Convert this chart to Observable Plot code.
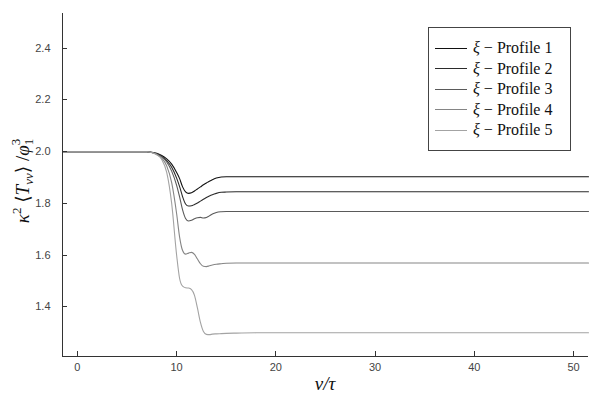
<!DOCTYPE html>
<html>
<head>
<meta charset="utf-8">
<script src="https://cdn.jsdelivr.net/npm/d3@7"></script>
<script src="https://cdn.jsdelivr.net/npm/@observablehq/plot@0.6"></script>
<style>
  html, body { margin: 0; padding: 0; background: #fff; }
  #wrap { position: relative; width: 600px; height: 400px; }
  #legend { position: absolute; left: 428px; top: 27px; width: 141px; height: 122px;
    border: 1px solid #444; background: #fff; box-sizing: content-box; }
  .row { position: absolute; left: 0; height: 20px; display: flex; align-items: center; }
  .sw { width: 32px; height: 0; border-top: 1.2px solid #000; margin-left: 6px; margin-right: 6px; }
  .lab { font-family: "Liberation Serif", serif; font-size: 16px; color: #111; white-space: nowrap; }
  .op { padding: 0 4px; }
</style>
</head>
<body>
<div id="wrap"></div>
<script>
const xs = [-1.5, 6.5, 7, 7.5, 8, 8.5, 9, 9.5, 10, 10.3, 10.6, 10.9, 11.2, 11.5, 11.8, 12.1, 12.4, 12.7, 13, 13.3, 13.6, 14, 14.5, 15, 16, 18, 51.5];
const profile1 = [2.0, 2.0, 1.9995, 1.998, 1.994, 1.985, 1.972, 1.952, 1.92, 1.896, 1.864, 1.845, 1.839, 1.841, 1.848, 1.856, 1.864, 1.872, 1.879, 1.886, 1.892, 1.898, 1.902, 1.903, 1.903, 1.903, 1.903];
const profile2 = [2.0, 2.0, 1.9995, 1.997, 1.992, 1.982, 1.965, 1.94, 1.898, 1.865, 1.826, 1.798, 1.790, 1.791, 1.796, 1.802, 1.809, 1.816, 1.823, 1.829, 1.834, 1.839, 1.843, 1.844, 1.845, 1.845, 1.845];
const profile3 = [2.0, 2.0, 1.9995, 1.997, 1.991, 1.98, 1.96, 1.925, 1.87, 1.825, 1.775, 1.742, 1.732, 1.735, 1.741, 1.745, 1.746, 1.744, 1.746, 1.752, 1.759, 1.765, 1.768, 1.769, 1.769, 1.769, 1.769];
const profile4 = [2.0, 2.0, 1.9995, 1.997, 1.989, 1.975, 1.945, 1.88, 1.76, 1.67, 1.618, 1.604, 1.608, 1.611, 1.603, 1.585, 1.567, 1.557, 1.556, 1.559, 1.562, 1.565, 1.567, 1.569, 1.570, 1.570, 1.570];
const profile5 = [2.0, 2.0, 1.9995, 1.996, 1.988, 1.97, 1.92, 1.80, 1.60, 1.51, 1.48, 1.474, 1.473, 1.467, 1.445, 1.395, 1.34, 1.305, 1.294, 1.293, 1.295, 1.296, 1.297, 1.298, 1.299, 1.30, 1.30];
const seriesNames = ["ξ − Profile 1", "ξ − Profile 2", "ξ − Profile 3", "ξ − Profile 4", "ξ − Profile 5"];
const seriesColors = ["#111111", "#2b2b2b", "#5a5a5a", "#858585", "#a3a3a3"];
const xTicks = [0, 10, 20, 30, 40, 50];
const yTicks = [1.4, 1.6, 1.8, 2.0, 2.2, 2.4];
const xDomain = [-1.5, 51.5];
const yDomain = [1.2085, 2.534];

const allSeries = [profile1, profile2, profile3, profile4, profile5];
const table = [];
allSeries.forEach((ys, i) => ys.forEach((y, j) => table.push({x: xs[j], y, s: seriesNames[i]})));

const tickFont = "'Liberation Sans', Helvetica, Arial, sans-serif";
const chart = Plot.plot({
  width: 600, height: 400,
  marginLeft: 62, marginRight: 12, marginTop: 13, marginBottom: 44,
  style: {background: "#fff", fontFamily: tickFont, fontSize: "11px", color: "#444"},
  x: {domain: xDomain},
  y: {domain: yDomain},
  color: {domain: seriesNames, range: seriesColors},
  marks: [
    Plot.line(table, {x: "x", y: "y", z: "s", stroke: "s", strokeWidth: 1.1, curve: "monotone-x"}),
    Plot.ruleX([xDomain[0]], {stroke: "#333", strokeWidth: 1}),
    Plot.ruleY([yDomain[0]], {stroke: "#333", strokeWidth: 1}),
    Plot.axisX(xTicks, {tickSize: 0, tickPadding: 7, label: null, fill: "#444", fontSize: 11}),
    Plot.axisY(yTicks, {tickSize: 0, tickPadding: 12, label: null, fill: "#444", fontSize: 11, tickFormat: d3.format(".1f")})
  ]
});

const svg = d3.select(chart);
const sx = chart.scale("x"), sy = chart.scale("y");
const y0 = sy.apply(yDomain[0]), x0 = sx.apply(xDomain[0]);
const tg = svg.append("g").attr("stroke", "#333").attr("stroke-width", 1);
xTicks.forEach(t => {
  const px = Math.round(sx.apply(t)) + 0.5;
  tg.append("line").attr("x1", px).attr("x2", px).attr("y1", y0).attr("y2", y0 - 5);
});
yTicks.forEach(t => {
  const py = Math.round(sy.apply(t)) + 0.5;
  tg.append("line").attr("x1", x0).attr("x2", x0 + 5).attr("y1", py).attr("y2", py);
});

const serif = "'Liberation Serif', 'DejaVu Serif', serif";
// x label
svg.append("text")
  .attr("x", 325).attr("y", 390)
  .attr("text-anchor", "middle")
  .attr("font-family", serif).attr("font-size", 19).attr("font-style", "italic").attr("fill", "#111")
  .text("v/τ");
// y label
const yl = svg.append("text")
  .attr("transform", "translate(29,181) rotate(-90)")
  .attr("text-anchor", "middle")
  .attr("font-family", serif).attr("font-size", 19).attr("fill", "#111");
yl.append("tspan").attr("font-style", "italic").text("κ");
yl.append("tspan").attr("font-size", 13).attr("dy", -8).text("2");
yl.append("tspan").attr("dy", 8).text(" ⟨");
yl.append("tspan").attr("font-style", "italic").text("T");
yl.append("tspan").attr("font-style", "italic").attr("font-size", 13).attr("dy", 4).text("vv");
yl.append("tspan").attr("dy", -4).text("⟩ /");
yl.append("tspan").attr("font-style", "italic").text("φ");
yl.append("tspan").attr("font-size", 13).attr("dy", 4).text("1");
yl.append("tspan").attr("font-size", 13).attr("dx", -6.5).attr("dy", -13).text("3");

const wrap = document.getElementById("wrap");
wrap.appendChild(chart);
const legend = document.createElement("div");
legend.id = "legend";
seriesNames.forEach((n, i) => {
  const row = document.createElement("div");
  row.className = "row";
  row.style.top = (10 + i * 20.5) + "px";
  const sw = document.createElement("div");
  sw.className = "sw";
  sw.style.borderTopColor = seriesColors[i];
  const lab = document.createElement("span");
  lab.className = "lab";
  lab.innerHTML = "<i>ξ</i><span class='op'>−</span>Profile " + (i + 1);
  row.appendChild(sw); row.appendChild(lab);
  legend.appendChild(row);
});
wrap.appendChild(legend);
</script>
</body>
</html>
